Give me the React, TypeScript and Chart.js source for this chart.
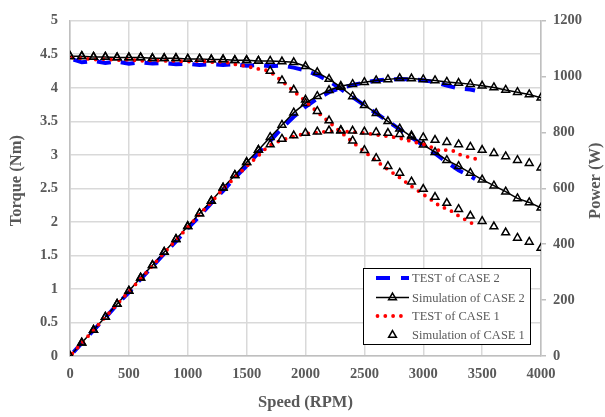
import React, { useEffect, useRef } from 'react';
import { Chart, registerables } from 'chart.js';
Chart.register(...registerables);

// ---- data ----
const simSpeed = [0,100,200,300,400,500,600,700,800,900,1000,1100,1200,1300,1400,1500,1600,1700,1800,1900,2000,2100,2200,2300,2400,2500,2600,2700,2800,2900,3000,3100,3200,3300,3400,3500,3600,3700,3800,3900,4000];
const simTorque2 = [4.47,4.47,4.46,4.46,4.45,4.45,4.45,4.44,4.44,4.44,4.43,4.43,4.42,4.42,4.41,4.41,4.40,4.40,4.39,4.38,4.32,4.23,4.13,4.01,3.87,3.74,3.62,3.50,3.39,3.27,3.15,3.04,2.92,2.83,2.73,2.63,2.54,2.45,2.35,2.29,2.21];
const simPower2 = [0,47,93,140,186,233,280,325,372,418,464,510,555,602,647,693,737,783,827,871,905,930,951,966,973,980,986,990,994,993,990,986,981,977,973,967,961,952,944,936,924];
const simTorque1 = [4.47,4.47,4.46,4.46,4.45,4.45,4.45,4.44,4.44,4.44,4.43,4.43,4.42,4.42,4.41,4.41,4.40,4.25,4.11,3.97,3.82,3.65,3.51,3.36,3.21,3.07,2.95,2.83,2.73,2.60,2.49,2.37,2.28,2.19,2.09,2.01,1.93,1.84,1.76,1.70,1.61];
const simPower1 = [0,47,93,140,186,233,280,325,372,418,464,510,555,602,647,693,737,757,777,789,798,803,807,808,806,803,801,798,794,789,782,773,765,757,748,737,726,714,701,690,674];

const test2Speed = [30,100,200,300,400,500,600,700,800,900,1000,1100,1200,1300,1400,1500,1600,1700,1800,1900,2000,2100,2200,2300,2400,2500,2600,2700,2800,2900,3000,3100,3200,3300,3400,3440];
const test2Torque = [4.42,4.38,4.40,4.37,4.39,4.36,4.38,4.36,4.37,4.35,4.36,4.34,4.35,4.34,4.35,4.33,4.34,4.32,4.33,4.30,4.26,4.19,4.10,3.98,3.86,3.74,3.62,3.50,3.38,3.26,3.14,3.02,2.89,2.77,2.68,2.64];
const test2Power = [14,46,92,137,184,228,275,320,366,410,457,500,547,591,638,680,727,769,816,856,892,921,944,959,970,979,986,990,991,990,987,980,968,957,954,950];

const test1Speed = [20,100,200,300,400,500,600,700,800,900,1000,1100,1200,1300,1400,1500,1600,1650,1700,1800,1900,2000,2100,2200,2300,2400,2500,2600,2700,2800,2900,3000,3100,3150,3200,3250,3300,3350,3400,3450];
const test1Torque = [4.45,4.44,4.42,4.43,4.41,4.42,4.40,4.41,4.40,4.40,4.39,4.40,4.38,4.39,4.35,4.32,4.28,4.27,4.24,4.10,3.95,3.80,3.64,3.49,3.34,3.19,3.05,2.91,2.78,2.66,2.53,2.41,2.29,2.22,2.20,2.15,2.09,2.04,1.99,1.95];
const test1Power = [9,46,93,139,185,231,276,323,369,415,460,507,550,598,638,679,717,738,755,773,786,796,800,804,804,802,798,792,786,780,768,758,743,732,738,735,722,716,710,705];

const speedTicks = [0,500,1000,1500,2000,2500,3000,3500,4000];
const torqueTicks = [0,0.5,1,1.5,2,2.5,3,3.5,4,4.5,5];
const powerTicks = [0,200,400,600,800,1000,1200];

const legendLabels = ['TEST of CASE 2','Simulation of CASE 2','TEST of CASE 1','Simulation of CASE 1'];
const xTitle = 'Speed (RPM)';
const yTitle = 'Torque (Nm)';
const y1Title = 'Power (W)';

const FONT = '"Liberation Serif", "Times New Roman", serif';
const GRAY = '#595959';
const GRID = '#d9d9d9';
const AXIS = '#bfbfbf';
const BLUE = '#0000ff';
const RED = '#ff0000';

const pts = (xs: number[], ys: number[]) => xs.map((x, i) => ({ x, y: ys[i] }));

function tri(ctx: CanvasRenderingContext2D, x: number, y: number, r: number) {
  ctx.beginPath();
  for (let k = 0; k < 3; k++) {
    const a = k * (2 * Math.PI / 3);
    const px = x + Math.sin(a) * r;
    const py = y - Math.cos(a) * r;
    if (k === 0) ctx.moveTo(px, py); else ctx.lineTo(px, py);
  }
  ctx.closePath();
  ctx.stroke();
}

function vTitle(ctx: CanvasRenderingContext2D, text: string, x: number, y: number) {
  ctx.save();
  ctx.translate(x, y);
  ctx.rotate(-Math.PI / 2);
  ctx.fillStyle = GRAY;
  ctx.font = 'bold 16.5px ' + FONT;
  ctx.textAlign = 'center';
  ctx.textBaseline = 'middle';
  ctx.fillText(text, 0, 0);
  ctx.restore();
}

const boxLegend = {
  id: 'boxLegend',
  afterDraw(chart: any) {
    const ctx: CanvasRenderingContext2D = chart.ctx;
    const ca = chart.chartArea;
    vTitle(ctx, yTitle, 17, ca.top + 160);
    vTitle(ctx, y1Title, 596, ca.top + 160);

    const x0 = ca.right - 178;
    const y0 = ca.bottom - 88;
    const w = 167, h = 76;
    ctx.save();
    ctx.fillStyle = '#ffffff';
    ctx.fillRect(x0, y0, w, h);
    ctx.strokeStyle = '#000000';
    ctx.lineWidth = 1;
    ctx.strokeRect(x0 + 0.5, y0 + 0.5, w, h);
    const rows = [10, 29.5, 48, 67];
    const sx0 = x0 + 13, sx1 = x0 + 46, sxm = (sx0 + sx1) / 2;
    ctx.beginPath();
    ctx.strokeStyle = BLUE; ctx.lineWidth = 4; ctx.setLineDash([14, 11]);
    ctx.moveTo(sx0, y0 + rows[0]); ctx.lineTo(sx1, y0 + rows[0]); ctx.stroke();
    ctx.setLineDash([]);
    ctx.beginPath();
    ctx.strokeStyle = '#000'; ctx.lineWidth = 1.5;
    ctx.moveTo(sx0, y0 + rows[1]); ctx.lineTo(sx1, y0 + rows[1]); ctx.stroke();
    tri(ctx, sxm, y0 + rows[1], 4.5);
    ctx.fillStyle = RED;
    for (let k = 0; k < 4; k++) {
      ctx.beginPath();
      ctx.arc(sx0 + 1.5 + k * 7.8, y0 + rows[2], 1.9, 0, Math.PI * 2);
      ctx.fill();
    }
    ctx.strokeStyle = '#000'; ctx.lineWidth = 1.5;
    tri(ctx, sxm, y0 + rows[3], 4.5);
    ctx.fillStyle = GRAY;
    ctx.font = '12.5px ' + FONT;
    ctx.textBaseline = 'middle';
    ctx.textAlign = 'left';
    legendLabels.forEach((t, i) => ctx.fillText(t, x0 + 49, y0 + rows[i] + 1));
    ctx.restore();
  },
};

export default function App() {
  const ref = useRef<HTMLCanvasElement | null>(null);
  useEffect(() => {
    if (!ref.current) return;
    const tickFont = { family: FONT, size: 14.5, weight: 'bold' as const };
    const titleFont = { family: FONT, size: 16.5, weight: 'bold' as const };
    const plain = (v: any) => String(v);
    const simStyle = {
      borderColor: '#000', borderWidth: 1.5,
      pointStyle: 'triangle', pointRadius: 4.5, pointHoverRadius: 4.5,
      pointBorderColor: '#000', pointBorderWidth: 1.5,
      pointBackgroundColor: 'rgba(0,0,0,0)',
    };
    const blueStyle = {
      borderColor: BLUE, borderWidth: 4, borderDash: [14, 10],
      pointRadius: 0, showLine: true,
    };
    const redStyle = {
      borderColor: RED, borderWidth: 3.8, borderDash: [0, 7.8], borderCapStyle: 'round',
      pointRadius: 0, showLine: true,
    };
    const chart = new Chart(ref.current, {
      type: 'scatter',
      data: {
        datasets: [
          { label: legendLabels[0], data: pts(test2Speed, test2Torque), yAxisID: 'y', order: 4, ...blueStyle },
          { label: legendLabels[0] + ' P', data: pts(test2Speed, test2Power), yAxisID: 'y1', order: 4, ...blueStyle },
          { label: legendLabels[1], data: pts(simSpeed, simTorque2), yAxisID: 'y', order: 3, showLine: true, ...simStyle },
          { label: legendLabels[1] + ' P', data: pts(simSpeed, simPower2), yAxisID: 'y1', order: 3, showLine: true, ...simStyle },
          { label: legendLabels[2], data: pts(test1Speed, test1Torque), yAxisID: 'y', order: 2, ...redStyle },
          { label: legendLabels[2] + ' P', data: pts(test1Speed, test1Power), yAxisID: 'y1', order: 2, ...redStyle },
          { label: legendLabels[3], data: pts(simSpeed, simTorque1), yAxisID: 'y', order: 1, showLine: false, ...simStyle },
          { label: legendLabels[3] + ' P', data: pts(simSpeed, simPower1), yAxisID: 'y1', order: 1, showLine: false, ...simStyle },
        ] as any,
      },
      options: {
        animation: false,
        responsive: false,
        layout: { padding: { top: 12, left: 0, right: 0, bottom: 0 } },
        plugins: { legend: { display: false }, tooltip: { enabled: false } },
        scales: {
          x: {
            type: 'linear', min: 0, max: 4000,
            afterBuildTicks: (s: any) => { s.ticks = speedTicks.map(v => ({ value: v })); },
            afterFit: (s: any) => { s.height = 61; },
            ticks: { font: tickFont, color: GRAY, padding: 10, maxRotation: 0, callback: plain },
            grid: { color: GRID, lineWidth: 1.5, drawTicks: false },
            border: { color: AXIS, width: 1.5 },
            title: { display: true, text: xTitle, font: titleFont, color: GRAY, padding: { top: 2, bottom: 4 } },
          },
          y: {
            position: 'left', min: 0, max: 5,
            afterBuildTicks: (s: any) => { s.ticks = torqueTicks.map(v => ({ value: v })); },
            afterFit: (s: any) => { s.width = 70; },
            ticks: { font: tickFont, color: GRAY, padding: 12, callback: plain },
            grid: { color: GRID, lineWidth: 1.5, drawTicks: false },
            border: { color: AXIS, width: 1.5 },
            title: { display: false },
          },
          y1: {
            position: 'right', min: 0, max: 1200,
            afterBuildTicks: (s: any) => { s.ticks = powerTicks.map(v => ({ value: v })); },
            afterFit: (s: any) => { s.width = 64; },
            ticks: { font: tickFont, color: GRAY, padding: 7, callback: plain },
            grid: { drawOnChartArea: false, drawTicks: true, tickLength: 5, color: AXIS, lineWidth: 1.5 },
            border: { color: AXIS, width: 1.5 },
            title: { display: false },
          },
        },
      } as any,
      plugins: [boxLegend],
    });
    return () => chart.destroy();
  }, []);
  return (
    <div style={{ position: 'absolute', left: 0, top: 0, width: 605, height: 417, background: '#fff' }}>
      <canvas ref={ref} width={605} height={417} />
    </div>
  );
}
